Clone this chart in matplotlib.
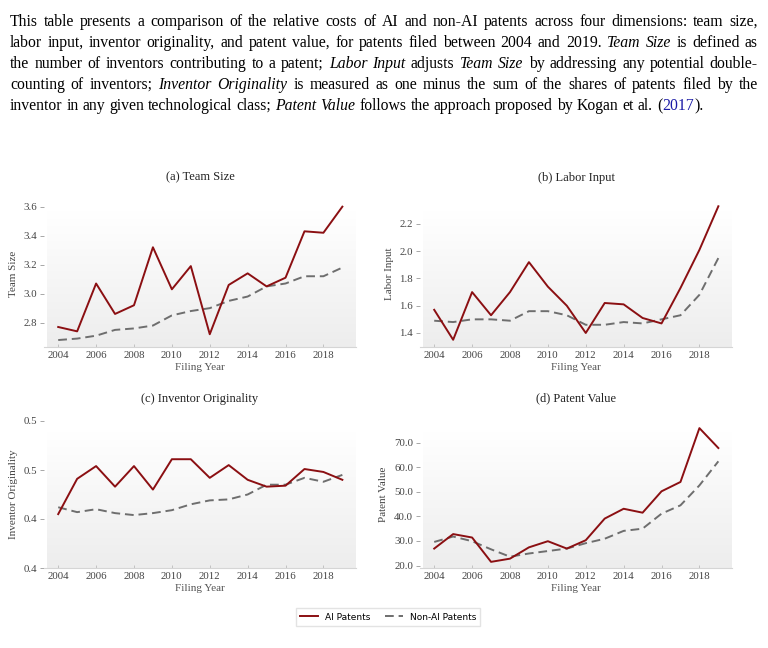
import numpy as np
import matplotlib
matplotlib.use("Agg")
import matplotlib.pyplot as plt
from matplotlib.lines import Line2D

# ---------------------------------------------------------------------
# data
# ---------------------------------------------------------------------
years = np.arange(2004, 2020)

team_ai = [2.77, 2.74, 3.07, 2.86, 2.92, 3.32, 3.03, 3.19, 2.72, 3.06, 3.14, 3.05, 3.11, 3.43, 3.42, 3.60]
team_non = [2.68, 2.69, 2.71, 2.75, 2.76, 2.78, 2.85, 2.88, 2.90, 2.95, 2.98, 3.05, 3.07, 3.12, 3.12, 3.18]

labor_ai = [1.57, 1.35, 1.70, 1.53, 1.70, 1.92, 1.74, 1.60, 1.40, 1.62, 1.61, 1.51, 1.47, 1.73, 2.01, 2.33]
labor_non = [1.49, 1.48, 1.50, 1.50, 1.49, 1.56, 1.56, 1.53, 1.46, 1.46, 1.48, 1.47, 1.50, 1.53, 1.68, 1.95]

orig_ai = [0.405, 0.441, 0.454, 0.433, 0.454, 0.430, 0.461, 0.461, 0.442, 0.455, 0.440, 0.433, 0.434, 0.451, 0.448, 0.440]
orig_non = [0.412, 0.407, 0.410, 0.406, 0.404, 0.406, 0.409, 0.415, 0.419, 0.420, 0.425, 0.435, 0.435, 0.442, 0.438, 0.445]

value_ai = [26.9, 32.8, 31.4, 21.5, 22.8, 27.4, 29.9, 26.9, 30.3, 39.1, 43.1, 41.5, 50.2, 54.0, 75.9, 67.8]
value_non = [29.6, 31.8, 29.9, 26.6, 23.6, 24.9, 25.9, 26.9, 29.1, 30.9, 34.1, 35.0, 41.1, 44.5, 52.6, 62.4]

titles = ["(a) Team Size", "(b) Labor Input", "(c) Inventor Originality", "(d) Patent Value"]
ylabels = ["Team Size", "Labor Input", "Inventor Originality", "Patent Value"]
xticks = [2004, 2006, 2008, 2010, 2012, 2014, 2016, 2018]

team_ticks = [2.8, 3.0, 3.2, 3.4, 3.6]
labor_ticks = [1.4, 1.6, 1.8, 2.0, 2.2]
orig_ticks = [0.35, 0.40, 0.45, 0.50]
orig_ticklabels = ["0.4", "0.4", "0.5", "0.5"]
value_ticks = [20, 30, 40, 50, 60, 70]
value_ticklabels = ["20.0", "30.0", "40.0", "50.0", "60.0", "70.0"]

caption = [
    [("This table presents a comparison of the relative costs of AI and non-AI patents across four dimensions: team size,", "n")],
    [("labor input, inventor originality, and patent value, for patents filed between 2004 and 2019.", "n"),
     ("Team Size", "i"), ("is defined as", "n")],
    [("the number of inventors contributing to a patent;", "n"), ("Labor Input", "i"), ("adjusts", "n"),
     ("Team Size", "i"), ("by addressing any potential double-", "n")],
    [("counting of inventors;", "n"), ("Inventor Originality", "i"),
     ("is measured as one minus the sum of the shares of patents filed by the", "n")],
    [("inventor in any given technological class;", "n"), ("Patent Value", "i"),
     ("follows the approach proposed by Kogan et al.", "n"), ("(2017).", "c")],
]

AI_COLOR = "#8b0f12"
NON_COLOR = "#6e6e6e"
SERIF = ["Liberation Serif", "DejaVu Serif"]

W, H = 768, 648
fig = plt.figure(figsize=(W / 100, H / 100), dpi=100)
fig.patch.set_facecolor("white")
renderer = fig.canvas.get_renderer()

# ---------------------------------------------------------------------
# justified caption paragraph
# ---------------------------------------------------------------------
cap_size = 11.3
x_left, x_right = 10, 758
baselines = [26, 47, 68, 89, 110]


def make_word(word, style, color="black"):
    kw = dict(fontsize=cap_size, family=SERIF, va="baseline", ha="left",
              transform=None, color=color)
    if style == "i":
        kw["style"] = "italic"
    return fig.text(0, 0, word, **kw)


probe_a = fig.text(0, 0, "a a", fontsize=cap_size, family=SERIF)
probe_b = fig.text(0, 0, "aa", fontsize=cap_size, family=SERIF)
space_w = (probe_a.get_window_extent(renderer).width
           - probe_b.get_window_extent(renderer).width)
probe_a.remove()
probe_b.remove()

for li, segs in enumerate(caption):
    words = []
    for text, style in segs:
        for w in text.split(" "):
            words.append((w, style))
    items = []
    for w, style in words:
        if style == "c":
            # "(2017)." with only the year as a blue link
            items.append([make_word("(", "n"), make_word("2017", "n", "#1a1aa6"),
                          make_word(").", "n")])
        else:
            items.append([make_word(w, style)])
    widths = [sum(t.get_window_extent(renderer).width for t in sub) for sub in items]
    total = sum(widths)
    last = li == len(caption) - 1
    gap = space_w if last else (x_right - x_left - total) / (len(items) - 1)
    y = H - baselines[li]
    x = x_left
    for sub, wd in zip(items, widths):
        xx = x
        for t in sub:
            t.set_position((xx, y))
            xx += t.get_window_extent(renderer).width
        x += wd + gap

# ---------------------------------------------------------------------
# four panels
# ---------------------------------------------------------------------
def px_axes(left, top, right, bottom):
    return fig.add_axes([left / W, 1 - bottom / H, (right - left) / W, (bottom - top) / H])


ax_a = px_axes(44, 200, 356, 347)
ax_b = px_axes(420, 200, 732, 347)
ax_c = px_axes(44, 421, 356, 568)
ax_d = px_axes(420, 421, 732, 568)

panels = [
    (ax_a, team_ai, team_non, (2.632, 3.646), team_ticks, [f"{v:.1f}" for v in team_ticks]),
    (ax_b, labor_ai, labor_non, (1.297, 2.376), labor_ticks, [f"{v:.1f}" for v in labor_ticks]),
    (ax_c, orig_ai, orig_non, (0.35, 0.50), orig_ticks, orig_ticklabels),
    (ax_d, value_ai, value_non, (19.0, 78.8), value_ticks, value_ticklabels),
]

grad = np.linspace(0, 1, 256).reshape(-1, 1)
grad_cmap = matplotlib.colors.LinearSegmentedColormap.from_list("bg", ["#ffffff", "#ededed"])

for (ax, ai, non, ylim, yt, ytl), title, ylab in zip(panels, titles, ylabels):
    ax.set_facecolor("none")
    ax.imshow(grad, extent=[0.01, 1, 0, 0.92], transform=ax.transAxes, cmap=grad_cmap,
              aspect="auto", zorder=0, interpolation="bilinear")
    ax.plot(years, non, color=NON_COLOR, lw=1.4, ls=(0, (4.5, 2.5)), zorder=3)
    ax.plot(years, ai, color=AI_COLOR, lw=1.4, zorder=4)
    ax.set_xlim(2003.25, 2019.72)
    ax.set_ylim(*ylim)
    ax.set_xticks(xticks)
    ax.set_xticklabels([str(v) for v in xticks], family=SERIF, fontsize=7.8, color="#444444")
    ax.set_yticks(yt)
    ax.set_yticklabels(ytl, family=SERIF, fontsize=7.8, color="#444444")
    ax.tick_params(axis="y", length=3, width=0.6, color="#999999", pad=2)
    ax.tick_params(axis="x", length=2, width=0.6, color="#bbbbbb", pad=3, direction="in")
    for s in ["top", "right", "left"]:
        ax.spines[s].set_visible(False)
    ax.spines["bottom"].set_color("#d5d5d5")
    ax.spines["bottom"].set_linewidth(0.8)
    ax.set_title(title, family=SERIF, fontsize=9, color="#222222", pad=14)
    ax.set_xlabel("Filing Year", family=SERIF, fontsize=8, color="#555555", labelpad=2)
    ax.set_ylabel(ylab, family=SERIF, fontsize=8, color="#444444", labelpad=4)

handles = [Line2D([], [], color=AI_COLOR, lw=1.4),
           Line2D([], [], color=NON_COLOR, lw=1.4, ls=(0, (4.5, 2.5)))]
fig.legend(handles, ["AI Patents", "Non-AI Patents"], loc="center",
           bbox_to_anchor=(388 / W, 1 - 617 / H), ncol=2, fontsize=6.5,
           frameon=True, edgecolor="#dddddd", fancybox=False, handlelength=2.0,
           columnspacing=1.6, borderpad=0.45)

fig.savefig("out.png", dpi=100, facecolor="white")
